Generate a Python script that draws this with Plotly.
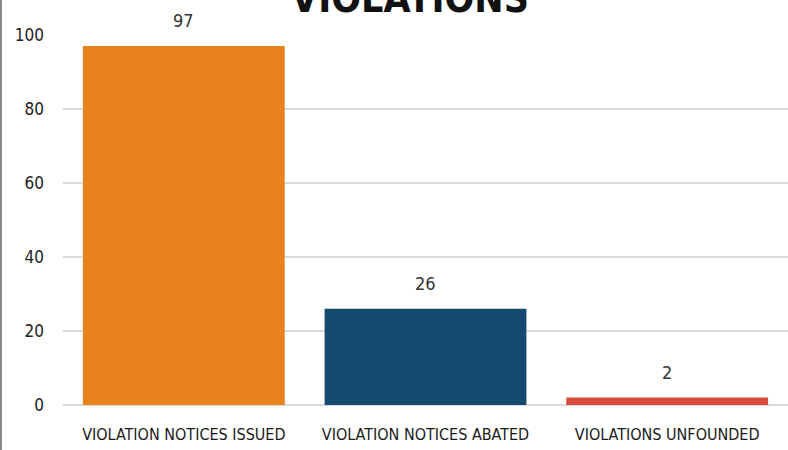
import plotly.graph_objects as go

categories = ["VIOLATION NOTICES ISSUED", "VIOLATION NOTICES ABATED", "VIOLATIONS UNFOUNDED"]
values = [97, 26, 2]
colors = ["#E8821F", "#154A6E", "#D64B3A"]
y_ticks = [0, 20, 40, 60, 80, 100]

FONT = "DejaVu Sans Condensed, Roboto Condensed, Arial Narrow, sans-serif"

fig = go.Figure(go.Bar(
    x=categories, y=values, marker=dict(color=colors, line=dict(width=0)),
    hoverinfo="skip",
))

for c, v in zip(categories, values):
    fig.add_annotation(x=c, y=v, text=str(v), showarrow=False, yanchor="bottom",
                       yshift=13, font=dict(family=FONT, size=18, color="#333333"))

fig.add_annotation(xref="paper", yref="paper", x=0.478, y=1, yanchor="bottom", yshift=12,
                   text="<b>VIOLATIONS</b>", showarrow=False,
                   font=dict(family=FONT, size=39, color="#111111"))

# left border
fig.add_shape(type="line", xref="paper", yref="paper", x0=-62/725, x1=-62/725, y0=-45/370, y1=1+35/370,
              line=dict(color="#888888", width=2))

fig.update_layout(
    width=788, height=450,
    margin=dict(l=63, r=0, t=35, b=45, autoexpand=False),
    paper_bgcolor="white", plot_bgcolor="white",
    bargap=0.165,
    showlegend=False,
    font=dict(family=FONT, color="#333333"),
    xaxis=dict(showgrid=False, showline=False, ticks="", tickangle=0, automargin=False,
               ticklabelstandoff=18,
               tickfont=dict(family=FONT, size=16, color="#1A1A1A")),
    yaxis=dict(range=[0, 100], tickvals=y_ticks, showgrid=True, gridcolor="#DADADA", gridwidth=2,
               zeroline=True, zerolinecolor="#DADADA", zerolinewidth=2, showline=False, ticks="",
               ticklabelstandoff=18, automargin=False,
               tickfont=dict(family=FONT, size=17, color="#222222")),
)

fig.write_html("out.html", config={"displayModeBar": False},
               post_script="document.body.style.margin='0';")
